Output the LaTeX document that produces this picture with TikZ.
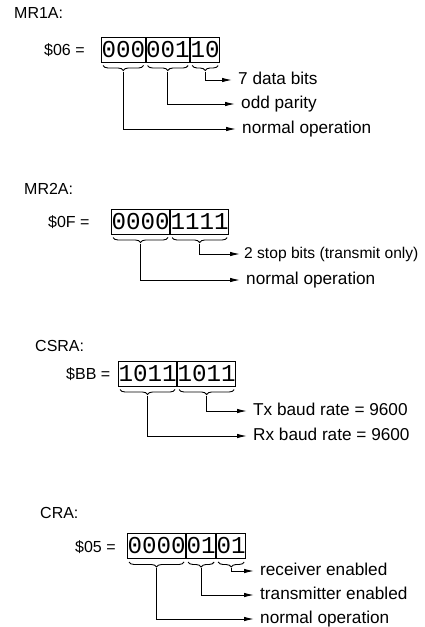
\documentclass[tikz,border=0pt]{standalone}
\usepackage{fontspec}
\setmainfont{Liberation Sans}
\newfontfamily\bitfont{Liberation Mono}
\usetikzlibrary{arrows.meta,positioning,decorations.pathreplacing,calc}

\begin{document}
\begin{tikzpicture}[
  x=1pt, y=-1pt,
  regname/.style={anchor=west, inner sep=0pt, font=\fontsize{16}{18}\selectfont},
  hexval/.style={anchor=west, inner sep=0pt, font=\fontsize{16}{18}\selectfont},
  bitgrp/.style={draw, line width=1pt, inner xsep=0pt, inner ysep=0pt,
    minimum height=25pt, font=\bitfont\fontsize{24.2}{24}\selectfont},
  brc/.style={decorate, decoration={brace, mirror, amplitude=5pt}, line width=0.9pt},
  arr/.style={-{Latex[length=10pt,width=4.5pt]}, line width=1pt},
  desc/.style={anchor=west, inner xsep=6pt, inner ysep=0pt, text height=12pt,
    text depth=3pt, font=\fontsize{17.2}{19}\selectfont},
]
\useasboundingbox (0,0) rectangle (424,627);

% ===== MR1A =====
\node[regname] (m1) at (14,13) {MR1A:};
\node[hexval] (h1) at (44,50) {\$06 =};
\node[bitgrp, anchor=west] (b1a) at (101,49.5) {000};
\node[bitgrp, right=0pt of b1a] (b1b) {001};
\node[bitgrp, right=0pt of b1b] (b1c) {10};

\draw[brc] ([xshift=2pt,yshift=-3pt]b1a.south west) -- ([xshift=-2pt,yshift=-3pt]b1a.south east);
\draw[brc] ([xshift=2pt,yshift=-3pt]b1b.south west) -- ([xshift=-2pt,yshift=-3pt]b1b.south east);
\draw[brc] ([xshift=2pt,yshift=-3pt]b1c.south west) -- ([xshift=-2pt,yshift=-3pt]b1c.south east);
\coordinate (t1a) at ([yshift=-9pt]b1a.south);
\coordinate (t1b) at ([yshift=-9pt]b1b.south);
\coordinate (t1c) at ([yshift=-9pt]b1c.south);

\node[desc] (d1c) at (232,80) {7 data bits};
\node[desc] (d1b) at (235,104) {odd parity};
\node[desc] (d1a) at (236,129) {normal operation};

\draw[arr] (t1c) |- (d1c.west);
\draw[arr] (t1b) |- (d1b.west);
\draw[arr] (t1a) |- (d1a.west);

% ===== MR2A =====
\node[regname] (m2) at (24,189) {MR2A:};
\node[hexval] (h2) at (48,222) {\$0F =};
\node[bitgrp, anchor=west] (b2a) at (111,221.5) {0000};
\node[bitgrp, right=0pt of b2a] (b2b) {1111};

\draw[brc] ([xshift=2pt,yshift=-3pt]b2a.south west) -- ([xshift=-2pt,yshift=-3pt]b2a.south east);
\draw[brc] ([xshift=2pt,yshift=-3pt]b2b.south west) -- ([xshift=-2pt,yshift=-3pt]b2b.south east);
\coordinate (t2a) at ([yshift=-9pt]b2a.south);
\coordinate (t2b) at ([yshift=-9pt]b2b.south);

\node[desc, inner xsep=4pt, font=\fontsize{15.6}{18}\selectfont] (d2b) at (240,254) {2 stop bits (transmit only)};
\node[desc] (d2a) at (240,280) {normal operation};

\draw[arr] (t2b) |- (d2b.west);
\draw[arr] (t2a) |- (d2a.west);

% ===== CSRA =====
\node[regname] (m3) at (35,346) {CSRA:};
\node[hexval] (h3) at (66,374) {\$BB =};
\node[bitgrp, anchor=west] (b3a) at (118,373.5) {1011};
\node[bitgrp, right=0pt of b3a] (b3b) {1011};

\draw[brc] ([xshift=2pt,yshift=-3pt]b3a.south west) -- ([xshift=-2pt,yshift=-3pt]b3a.south east);
\draw[brc] ([xshift=2pt,yshift=-3pt]b3b.south west) -- ([xshift=-2pt,yshift=-3pt]b3b.south east);
\coordinate (t3a) at ([yshift=-9pt]b3a.south);
\coordinate (t3b) at ([yshift=-9pt]b3b.south);

\node[desc] (d3b) at (247,411) {Tx baud rate = 9600};
\node[desc] (d3a) at (247,436) {Rx baud rate = 9600};

\draw[arr] (t3b) |- (d3b.west);
\draw[arr] (t3a) |- (d3a.west);

% ===== CRA =====
\node[regname] (m4) at (40,513) {CRA:};
\node[hexval] (h4) at (75,547) {\$05 =};
\node[bitgrp, anchor=west] (b4a) at (127,546) {0000};
\node[bitgrp, right=0pt of b4a] (b4b) {01};
\node[bitgrp, right=0pt of b4b] (b4c) {01};

\draw[brc] ([xshift=2pt,yshift=-3pt]b4a.south west) -- ([xshift=-2pt,yshift=-3pt]b4a.south east);
\draw[brc] ([xshift=2pt,yshift=-3pt]b4b.south west) -- ([xshift=-2pt,yshift=-3pt]b4b.south east);
\draw[brc] ([xshift=2pt,yshift=-3pt]b4c.south west) -- ([xshift=-2pt,yshift=-3pt]b4c.south east);
\coordinate (t4a) at ([yshift=-9pt]b4a.south);
\coordinate (t4b) at ([yshift=-9pt]b4b.south);
\coordinate (t4c) at ([yshift=-9pt]b4c.south);

\node[desc] (d4c) at (254,571) {receiver enabled};
\node[desc] (d4b) at (254,595) {transmitter enabled};
\node[desc] (d4a) at (254,619) {normal operation};

\draw[arr] (t4c) |- (d4c.west);
\draw[arr] (t4b) |- (d4b.west);
\draw[arr] (t4a) |- (d4a.west);

\end{tikzpicture}
\end{document}
